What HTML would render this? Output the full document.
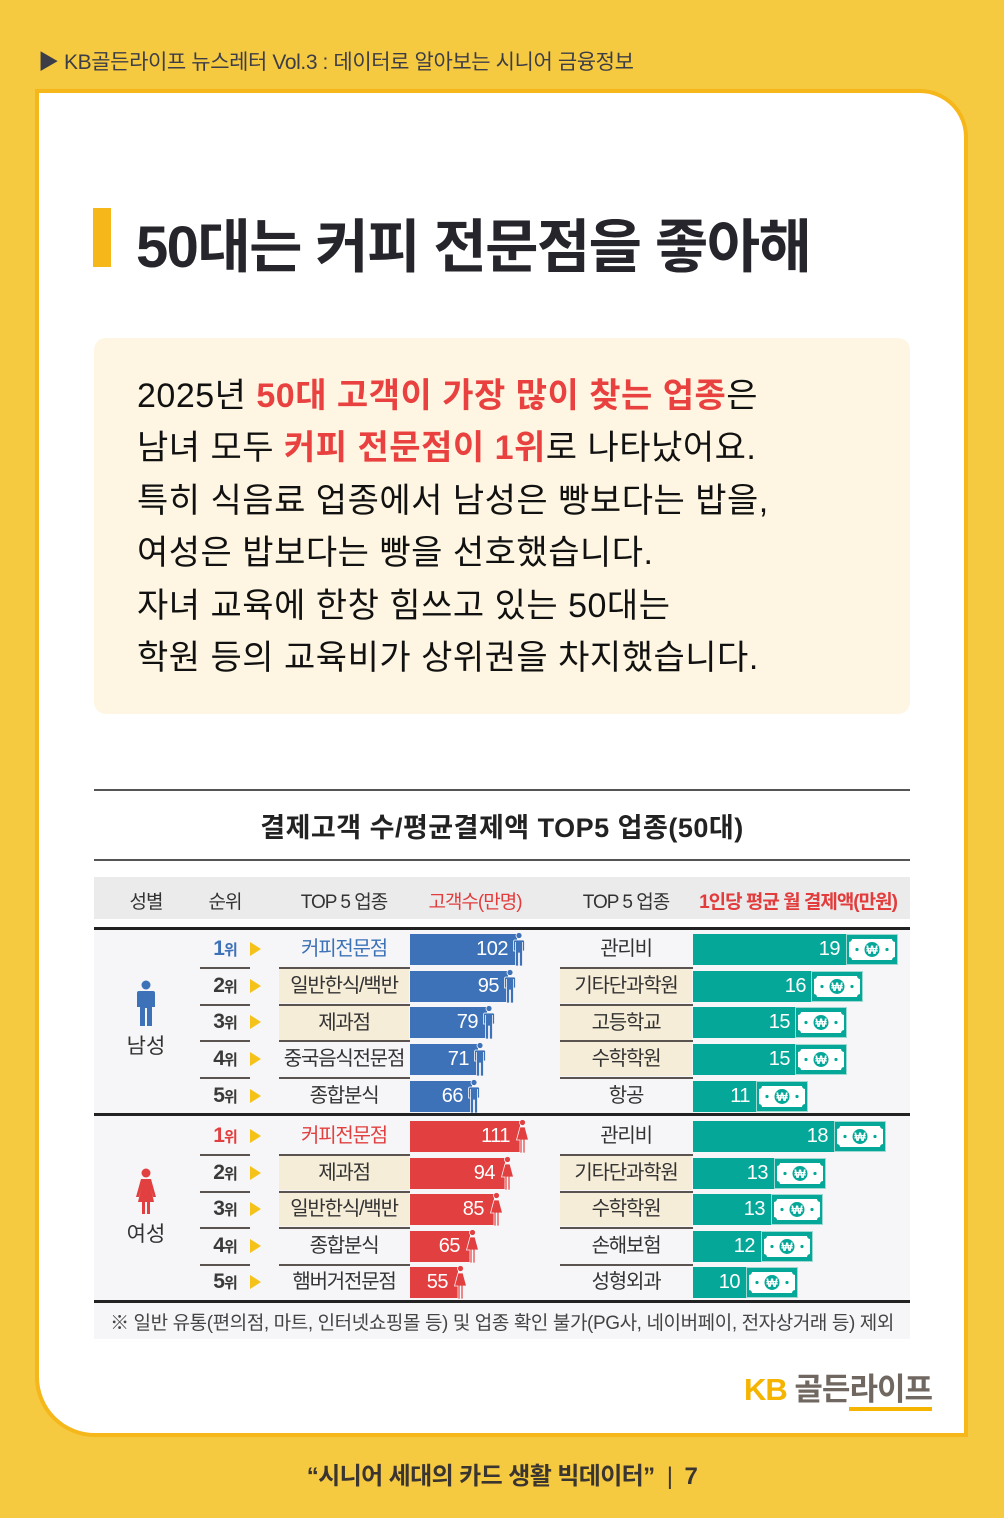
<!DOCTYPE html>
<html><head><meta charset="utf-8"><style>
*{margin:0;padding:0;box-sizing:border-box}
body{width:1004px;height:1518px;background:#F5CA40;position:relative;overflow:hidden;font-family:"Liberation Sans","Noto Sans CJK KR",sans-serif;color:#333}
.a{position:absolute;white-space:nowrap}
.card{position:absolute;left:35px;top:89px;width:933px;height:1348px;background:#fff;border:4px solid #F5B71A;border-radius:0 48px 0 60px}
.c{text-align:center}
.rk{position:absolute;left:200px;width:50px;text-align:center;font-weight:bold;font-size:21px;color:#3a3a3a;letter-spacing:-1px}
.rk small{font-size:15px}
.tri{position:absolute;left:250px;width:0;height:0;border-top:7px solid transparent;border-bottom:7px solid transparent;border-left:11px solid #F5C21A}
.ul{position:absolute;height:2px;background:#5a5350}
.cell{position:absolute;height:34px;line-height:34px;text-align:center;font-size:20px;color:#333;letter-spacing:-1.2px}
.bg{background:#F6EDD8}
.bar{position:absolute;height:31px;color:#fff;font-size:20px;line-height:31px;text-align:right;letter-spacing:-0.5px}
.b{background:#3D72B8}.r{background:#E24040}.t{background:#05A898}
</style></head><body>
<div class="a" style="left:38px;top:46px;font-size:21px;color:#3d3d47;letter-spacing:-0.4px">▶ KB골든라이프 뉴스레터 Vol.3 : 데이터로 알아보는 시니어 금융정보</div>
<div class="card"></div>
<div class="a" style="left:93px;top:208px;width:18px;height:59px;background:#F5B71A"></div>
<div class="a" style="left:136px;top:200px;font-size:58px;font-weight:bold;color:#25252b;letter-spacing:-1.6px">50대는 커피 전문점을 좋아해</div>
<div class="a" style="left:94px;top:338px;width:816px;height:376px;background:#FEF6E2;border-radius:12px"></div>
<div class="a" style="left:137px;top:370px;font-size:34px;line-height:52.4px;color:#111;letter-spacing:0.5px">2025년 <b style="color:#E8413F">50대 고객이 가장 많이 찾는 업종</b>은<br>남녀 모두 <b style="color:#E8413F">커피 전문점이 1위</b>로 나타났어요.<br>특히 식음료 업종에서 남성은 빵보다는 밥을,<br>여성은 밥보다는 빵을 선호했습니다.<br>자녀 교육에 한창 힘쓰고 있는 50대는<br>학원 등의 교육비가 상위권을 차지했습니다.</div>
<div class="a" style="left:94px;top:789px;width:816px;height:2px;background:#555"></div>
<div class="a c" style="left:94px;width:816px;top:806px;font-size:27px;font-weight:bold;color:#222;letter-spacing:0.5px">결제고객 수/평균결제액 TOP5 업종(50대)</div>
<div class="a" style="left:94px;top:859px;width:816px;height:2px;background:#555"></div>
<div class="a" style="left:94px;top:877px;width:816px;height:42px;background:#EBEBEC"></div>
<div class="a" style="left:94px;top:929px;width:816px;height:410px;background:#F6F6F8"></div>
<div class="a c" style="left:116px;width:60px;top:887px;font-size:19px;color:#333;letter-spacing:-1px">성별</div>
<div class="a c" style="left:195px;width:60px;top:887px;font-size:19px;color:#333;letter-spacing:-1px">순위</div>
<div class="a c" style="left:279px;width:130px;top:887px;font-size:19px;color:#333;letter-spacing:-1px">TOP 5 업종</div>
<div class="a c" style="left:410px;width:130px;top:887px;font-size:19px;color:#E23C3C;letter-spacing:-1px">고객수(만명)</div>
<div class="a c" style="left:560px;width:132px;top:887px;font-size:19px;color:#333;letter-spacing:-1px">TOP 5 업종</div>
<div class="a c" style="left:692px;width:212px;top:887px;font-size:19px;color:#E23C3C;font-weight:bold;letter-spacing:-1px">1인당 평균 월 결제액(만원)</div>
<div class="a" style="left:94px;top:927px;width:816px;height:3px;background:#222"></div>
<div class="a" style="left:94px;top:1113px;width:816px;height:3px;background:#222"></div>
<div class="a" style="left:94px;top:1300px;width:816px;height:3px;background:#222"></div>

<svg class="a" style="left:136px;top:980px" width="20" height="46" viewBox="0 0 20 46"><circle cx="10" cy="5" r="4.5" fill="#3D72B8"/><path d="M3 11h14a2 2 0 0 1 2 2v14h-3v-13h-0v32h-5v-18h-2v18h-5v-32v13h-3v-14a2 2 0 0 1 2-2z" fill="#3D72B8"/></svg>
<div class="a c" style="left:116px;width:60px;top:1030px;font-size:21px;color:#333">남성</div>
<svg class="a" style="left:136px;top:1168px" width="20" height="46" viewBox="0 0 20 46"><circle cx="10" cy="5" r="4.5" fill="#E24040"/><path d="M5 11h10l5 18h-3l-2-8 3 13h-4v12h-3v-12h-2v12h-3v-12h-4l3-13-2 8h-3z" fill="#E24040"/></svg>
<div class="a c" style="left:116px;width:60px;top:1218px;font-size:21px;color:#333">여성</div>

<div class="rk" style="top:937px;color:#3D72B8">1<small>위</small></div><div class="tri" style="top:942px"></div>
<div class="rk" style="top:974px">2<small>위</small></div><div class="tri" style="top:979px"></div>
<div class="rk" style="top:1010px">3<small>위</small></div><div class="tri" style="top:1015px"></div>
<div class="rk" style="top:1047px">4<small>위</small></div><div class="tri" style="top:1052px"></div>
<div class="rk" style="top:1084px">5<small>위</small></div><div class="tri" style="top:1089px"></div>
<div class="ul" style="left:200px;width:50px;top:967px"></div><div class="ul" style="left:200px;width:50px;top:1004px"></div><div class="ul" style="left:200px;width:50px;top:1040px"></div><div class="ul" style="left:200px;width:50px;top:1077px"></div>

<div class="cell" style="left:279px;width:130px;top:932px;color:#3D72B8">커피전문점</div>
<div class="cell bg" style="left:279px;width:130px;top:969px">일반한식/백반</div>
<div class="cell bg" style="left:279px;width:130px;top:1006px">제과점</div>
<div class="cell" style="left:279px;width:130px;top:1042px">중국음식전문점</div>
<div class="cell" style="left:279px;width:130px;top:1079px">종합분식</div>
<div class="ul" style="left:279px;width:131px;top:967px"></div><div class="ul" style="left:279px;width:131px;top:1004px"></div><div class="ul" style="left:279px;width:131px;top:1040px"></div><div class="ul" style="left:279px;width:131px;top:1077px"></div>

<div class="cell" style="left:560px;width:132px;top:932px">관리비</div>
<div class="cell bg" style="left:560px;width:132px;top:969px">기타단과학원</div>
<div class="cell bg" style="left:560px;width:132px;top:1006px">고등학교</div>
<div class="cell bg" style="left:560px;width:132px;top:1042px">수학학원</div>
<div class="cell" style="left:560px;width:132px;top:1079px">항공</div>
<div class="ul" style="left:560px;width:133px;top:967px"></div><div class="ul" style="left:560px;width:133px;top:1004px"></div><div class="ul" style="left:560px;width:133px;top:1040px"></div><div class="ul" style="left:560px;width:133px;top:1077px"></div>

<div class="rk" style="top:1124px;color:#E24040">1<small>위</small></div><div class="tri" style="top:1129px"></div>
<div class="rk" style="top:1161px">2<small>위</small></div><div class="tri" style="top:1166px"></div>
<div class="rk" style="top:1197px">3<small>위</small></div><div class="tri" style="top:1202px"></div>
<div class="rk" style="top:1234px">4<small>위</small></div><div class="tri" style="top:1239px"></div>
<div class="rk" style="top:1270px">5<small>위</small></div><div class="tri" style="top:1275px"></div>
<div class="ul" style="left:200px;width:50px;top:1154px"></div><div class="ul" style="left:200px;width:50px;top:1191px"></div><div class="ul" style="left:200px;width:50px;top:1227px"></div><div class="ul" style="left:200px;width:50px;top:1264px"></div>

<div class="cell" style="left:279px;width:130px;top:1119px;color:#E24040">커피전문점</div>
<div class="cell bg" style="left:279px;width:130px;top:1156px">제과점</div>
<div class="cell bg" style="left:279px;width:130px;top:1192px">일반한식/백반</div>
<div class="cell" style="left:279px;width:130px;top:1229px">종합분식</div>
<div class="cell" style="left:279px;width:130px;top:1265px">햄버거전문점</div>
<div class="ul" style="left:279px;width:131px;top:1154px"></div><div class="ul" style="left:279px;width:131px;top:1191px"></div><div class="ul" style="left:279px;width:131px;top:1227px"></div><div class="ul" style="left:279px;width:131px;top:1264px"></div>

<div class="cell" style="left:560px;width:132px;top:1119px">관리비</div>
<div class="cell bg" style="left:560px;width:132px;top:1156px">기타단과학원</div>
<div class="cell bg" style="left:560px;width:132px;top:1192px">수학학원</div>
<div class="cell" style="left:560px;width:132px;top:1229px">손해보험</div>
<div class="cell" style="left:560px;width:132px;top:1265px">성형외과</div>
<div class="ul" style="left:560px;width:133px;top:1154px"></div><div class="ul" style="left:560px;width:133px;top:1191px"></div><div class="ul" style="left:560px;width:133px;top:1227px"></div><div class="ul" style="left:560px;width:133px;top:1264px"></div>

<div class="bar b" style="left:410px;top:934px;width:107px;padding-right:9px">102</div>
<div class="bar b" style="left:410px;top:971px;width:98px;padding-right:9px">95</div>
<div class="bar b" style="left:410px;top:1007px;width:77px;padding-right:9px">79</div>
<div class="bar b" style="left:410px;top:1044px;width:68px;padding-right:9px">71</div>
<div class="bar b" style="left:410px;top:1081px;width:62px;padding-right:9px">66</div>
<svg class="a" style="left:513px;top:932px" width="12" height="34" viewBox="0 0 12 34"><circle cx="6" cy="3.5" r="3" fill="#3D72B8" stroke="#F6F6F8" stroke-width=".8"/><path d="M1.5 8h9l1 1v10h-2v-9v24h-3v-13h-1v13h-3v-24v9h-2v-10z" fill="#3D72B8" stroke="#F6F6F8" stroke-width=".8"/></svg>
<svg class="a" style="left:504px;top:969px" width="12" height="34" viewBox="0 0 12 34"><circle cx="6" cy="3.5" r="3" fill="#3D72B8" stroke="#F6F6F8" stroke-width=".8"/><path d="M1.5 8h9l1 1v10h-2v-9v24h-3v-13h-1v13h-3v-24v9h-2v-10z" fill="#3D72B8" stroke="#F6F6F8" stroke-width=".8"/></svg>
<svg class="a" style="left:483px;top:1005px" width="12" height="34" viewBox="0 0 12 34"><circle cx="6" cy="3.5" r="3" fill="#3D72B8" stroke="#F6F6F8" stroke-width=".8"/><path d="M1.5 8h9l1 1v10h-2v-9v24h-3v-13h-1v13h-3v-24v9h-2v-10z" fill="#3D72B8" stroke="#F6F6F8" stroke-width=".8"/></svg>
<svg class="a" style="left:474px;top:1042px" width="12" height="34" viewBox="0 0 12 34"><circle cx="6" cy="3.5" r="3" fill="#3D72B8" stroke="#F6F6F8" stroke-width=".8"/><path d="M1.5 8h9l1 1v10h-2v-9v24h-3v-13h-1v13h-3v-24v9h-2v-10z" fill="#3D72B8" stroke="#F6F6F8" stroke-width=".8"/></svg>
<svg class="a" style="left:468px;top:1079px" width="12" height="34" viewBox="0 0 12 34"><circle cx="6" cy="3.5" r="3" fill="#3D72B8" stroke="#F6F6F8" stroke-width=".8"/><path d="M1.5 8h9l1 1v10h-2v-9v24h-3v-13h-1v13h-3v-24v9h-2v-10z" fill="#3D72B8" stroke="#F6F6F8" stroke-width=".8"/></svg>

<div class="bar r" style="left:410px;top:1121px;width:110px;padding-right:10px">111</div>
<div class="bar r" style="left:410px;top:1158px;width:95px;padding-right:10px">94</div>
<div class="bar r" style="left:410px;top:1194px;width:84px;padding-right:10px">85</div>
<div class="bar r" style="left:410px;top:1231px;width:60px;padding-right:10px">65</div>
<div class="bar r" style="left:410px;top:1267px;width:48px;padding-right:10px">55</div>
<svg class="a" style="left:516px;top:1119px" width="13" height="34" viewBox="0 0 13 34"><circle cx="6.5" cy="3.5" r="3" fill="#E24040" stroke="#F6F6F8" stroke-width=".8"/><path d="M4 8h5l3.5 13h-3l1 0v0h-1.5v13h-2v-13h-1v13h-2v-13h-1.5l-2 0z" fill="#E24040" stroke="#F6F6F8" stroke-width=".8"/></svg>
<svg class="a" style="left:501px;top:1156px" width="13" height="34" viewBox="0 0 13 34"><circle cx="6.5" cy="3.5" r="3" fill="#E24040" stroke="#F6F6F8" stroke-width=".8"/><path d="M4 8h5l3.5 13h-3l1 0v0h-1.5v13h-2v-13h-1v13h-2v-13h-1.5l-2 0z" fill="#E24040" stroke="#F6F6F8" stroke-width=".8"/></svg>
<svg class="a" style="left:490px;top:1192px" width="13" height="34" viewBox="0 0 13 34"><circle cx="6.5" cy="3.5" r="3" fill="#E24040" stroke="#F6F6F8" stroke-width=".8"/><path d="M4 8h5l3.5 13h-3l1 0v0h-1.5v13h-2v-13h-1v13h-2v-13h-1.5l-2 0z" fill="#E24040" stroke="#F6F6F8" stroke-width=".8"/></svg>
<svg class="a" style="left:466px;top:1229px" width="13" height="34" viewBox="0 0 13 34"><circle cx="6.5" cy="3.5" r="3" fill="#E24040" stroke="#F6F6F8" stroke-width=".8"/><path d="M4 8h5l3.5 13h-3l1 0v0h-1.5v13h-2v-13h-1v13h-2v-13h-1.5l-2 0z" fill="#E24040" stroke="#F6F6F8" stroke-width=".8"/></svg>
<svg class="a" style="left:454px;top:1265px" width="13" height="34" viewBox="0 0 13 34"><circle cx="6.5" cy="3.5" r="3" fill="#E24040" stroke="#F6F6F8" stroke-width=".8"/><path d="M4 8h5l3.5 13h-3l1 0v0h-1.5v13h-2v-13h-1v13h-2v-13h-1.5l-2 0z" fill="#E24040" stroke="#F6F6F8" stroke-width=".8"/></svg>

<div class="bar t" style="left:693px;top:934px;width:153px;padding-right:6px">19</div>
<div class="bar t" style="left:693px;top:971px;width:119px;padding-right:6px">16</div>
<div class="bar t" style="left:693px;top:1007px;width:103px;padding-right:6px">15</div>
<div class="bar t" style="left:693px;top:1044px;width:103px;padding-right:6px">15</div>
<div class="bar t" style="left:693px;top:1081px;width:63px;padding-right:6px">11</div>
<div class="bar t" style="left:693px;top:1121px;width:141px;padding-right:6px">18</div>
<div class="bar t" style="left:693px;top:1158px;width:81px;padding-right:6px">13</div>
<div class="bar t" style="left:693px;top:1194px;width:78px;padding-right:6px">13</div>
<div class="bar t" style="left:693px;top:1231px;width:68px;padding-right:6px">12</div>
<div class="bar t" style="left:693px;top:1267px;width:53px;padding-right:6px">10</div>

<svg width="0" height="0" style="position:absolute"><defs><g id="bill"><rect x="0.5" y="0.5" width="51" height="30" fill="#05A898" stroke="#9ED9D2"/><path d="M6 5h40a3 3 0 0 0 3 3v15a3 3 0 0 0 -3 3h-40a3 3 0 0 0 -3 -3v-15a3 3 0 0 0 3 -3z" fill="#fff"/><circle cx="26" cy="15.5" r="7.5" fill="#05A898"/><text x="26" y="20" font-size="12" font-weight="bold" fill="#fff" text-anchor="middle" font-family="Liberation Sans,sans-serif">₩</text><circle cx="11" cy="15.5" r="1.6" fill="#05A898"/><circle cx="41" cy="15.5" r="1.6" fill="#05A898"/></g></defs></svg>
<svg class="a" style="left:846px;top:934px" width="52" height="31"><use href="#bill"/></svg>
<svg class="a" style="left:811px;top:971px" width="52" height="31"><use href="#bill"/></svg>
<svg class="a" style="left:795px;top:1007px" width="52" height="31"><use href="#bill"/></svg>
<svg class="a" style="left:795px;top:1044px" width="52" height="31"><use href="#bill"/></svg>
<svg class="a" style="left:756px;top:1081px" width="52" height="31"><use href="#bill"/></svg>
<svg class="a" style="left:834px;top:1121px" width="52" height="31"><use href="#bill"/></svg>
<svg class="a" style="left:774px;top:1158px" width="52" height="31"><use href="#bill"/></svg>
<svg class="a" style="left:771px;top:1194px" width="52" height="31"><use href="#bill"/></svg>
<svg class="a" style="left:761px;top:1231px" width="52" height="31"><use href="#bill"/></svg>
<svg class="a" style="left:746px;top:1267px" width="52" height="31"><use href="#bill"/></svg>

<div class="a c" style="left:94px;width:816px;top:1308px;font-size:19px;color:#444;letter-spacing:-0.4px">※ 일반 유통(편의점, 마트, 인터넷쇼핑몰 등) 및 업종 확인 불가(PG사, 네이버페이, 전자상거래 등) 제외</div>

<div class="a" style="left:744px;top:1364px;font-size:31px;font-weight:bold;letter-spacing:-1px"><span style="color:#F5B400">KB</span> <span style="color:#6f6760">골든<span style="border-bottom:4px solid #F5B400">라이프</span></span></div>

<div class="a c" style="left:0;width:1004px;top:1456px;font-size:24px;font-weight:bold;color:#3a3530;letter-spacing:-0.6px">“시니어 세대의 카드 생활 빅데이터” &nbsp;<span style="font-weight:normal">|</span>&nbsp; 7</div>
</body></html>
